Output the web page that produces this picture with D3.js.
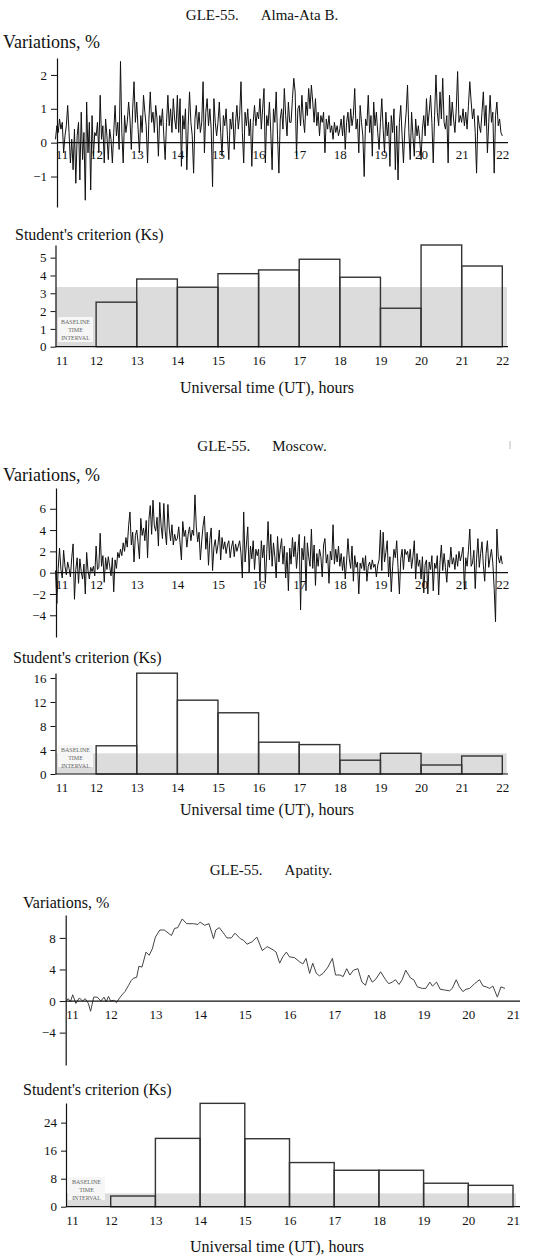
<!DOCTYPE html>
<html><head><meta charset="utf-8">
<script src="https://cdn.jsdelivr.net/npm/d3@7"></script>
<style>
body{margin:0;background:#fff}
svg{display:block}
text{font-family:"Liberation Serif","Times New Roman",serif;fill:#111}
</style>
</head><body>
<svg id="chart" width="552" height="1259"></svg>
<script>
// ---------------- DATA ----------------
const hoursAM = [11,12,13,14,15,16,17,18,19,20,21,22];
const hoursAp = [11,12,13,14,15,16,17,18,19,20,21];
const stepHours = 2/60; // Alma-Ata & Moscow series: one value every 2 minutes from 11:00 UT

const almaVar = [
 0.1,0.5,0.3,0.7,0.4,0.6,-0.3,0.2,0.5,1.1,0.3,-0.6,0.1,-0.8,0.4,-1.2,0.2,0.6,-1.1,0.9,-0.5,0.3,-1.7,1.2,-0.3,0.6,-1.4,0.8,-0.4,0.3,
 0.2,0.6,-0.3,1.4,0.1,0.5,-0.6,0.7,0.2,-0.5,0.4,0.1,-0.6,0.3,1.1,0.2,0.6,-0.2,2.4,0.3,-0.6,0.8,0.3,0.6,1.2,0.7,-0.2,1.0,1.8,0.6,
 1.2,0.4,-0.3,0.8,0.3,1.4,0.9,0.5,-0.6,0.7,1.5,0.6,0.9,0.3,1.1,0.7,-0.4,0.8,0.5,1.0,0.2,-0.5,0.6,1.4,0.5,1.0,0.3,1.3,0.7,0.4,
 1.4,0.3,1.3,-0.7,0.8,0.4,1.0,-0.8,0.5,1.5,0.6,0.2,-0.9,0.7,1.1,0.4,0.9,0.3,0.6,1.8,-0.3,0.9,1.3,0.5,1.0,0.4,-1.3,1.3,0.6,0.2,
 0.6,1.2,0.3,-0.4,0.8,0.5,1.0,0.2,-0.5,0.7,0.4,0.9,-0.2,0.6,1.1,0.4,0.8,1.8,0.3,-0.6,0.9,0.5,1.0,0.2,0.7,-0.7,0.6,1.1,0.5,0.9,
 0.7,1.3,0.4,1.0,1.6,-0.6,0.8,0.5,1.2,0.3,-0.8,1.0,0.6,1.5,0.2,-0.9,0.7,1.0,0.4,1.6,0.8,0.2,1.2,0.6,0.6,1.3,1.9,1.5,-0.4,1.0,
 1.1,0.5,1.4,0.7,0.3,1.2,0.8,1.6,1.0,1.7,1.2,0.6,1.3,0.5,0.9,0.2,0.8,0.6,0.9,-0.3,0.7,0.4,0.8,0.3,0.5,0.1,0.6,0.3,0.5,0.2,
 0.4,0.7,0.2,0.8,-0.2,0.6,0.9,0.3,1.0,0.5,0.8,1.6,0.4,0.7,-0.3,1.1,0.6,0.2,-1.0,0.7,0.5,1.4,0.3,0.8,-0.4,1.2,0.5,0.9,0.3,-0.2,
 0.6,1.3,0.4,-0.3,0.9,0.2,0.6,-0.7,0.8,0.3,1.0,-0.8,0.5,-1.1,0.6,1.1,0.2,-0.6,0.4,0.9,1.7,0.3,-0.5,0.9,0.2,-0.4,0.7,0.2,0.5,0.1,
 -0.5,0.4,0.8,0.2,1.3,0.5,0.9,1.4,0.6,-0.6,0.8,2.0,0.9,0.5,1.5,0.7,1.9,0.6,0.4,0.8,-0.6,1.4,0.5,1.2,0.7,0.3,1.0,2.1,0.6,0.8,
 0.6,1.0,0.5,0.9,0.4,1.1,1.8,1.2,0.7,1.0,0.3,-0.9,0.8,0.5,0.3,0.9,1.5,0.5,1.1,-0.3,0.6,1.4,0.6,0.9,-0.9,0.8,1.2,0.5,0.7,0.3,
 0.2
];

const moscowVar = [
 0.2,-2.9,0.4,2.3,0.3,-0.5,2.1,0.6,-0.2,1.0,0.4,-0.4,1.4,2.7,-2.5,0.3,1.4,-1.0,1.3,0.1,-0.6,0.8,-2.0,1.9,0.2,-0.6,0.5,0.1,0.6,-0.3,
 2.5,0.3,0.5,3.7,0.6,1.6,-0.9,1.4,0.3,1.5,0.6,-0.3,1.4,-1.8,1.2,0.4,1.9,1.4,2.2,1.6,2.8,2.0,3.3,2.4,4.4,5.7,2.6,3.8,1.0,3.5,
 4.0,2.8,1.3,5.1,3.5,4.2,3.0,4.9,1.4,5.0,6.3,3.6,6.8,4.4,3.9,5.2,2.5,6.6,4.4,3.2,6.5,3.9,2.6,6.4,4.2,3.0,4.5,2.6,3.6,3.0,
 3.2,4.3,2.8,1.2,4.8,3.4,4.0,2.4,3.6,4.3,3.0,4.0,3.5,7.3,4.3,2.9,3.8,1.2,3.0,4.4,5.3,2.2,3.8,0.7,3.1,4.2,0.2,2.4,3.1,1.8,
 2.6,4.0,1.2,3.3,2.2,2.9,1.8,2.6,3.0,1.4,2.4,3.0,1.5,2.7,2.0,2.5,3.0,1.8,-0.5,5.7,1.0,2.6,4.3,0.0,2.5,1.3,3.0,0.3,2.2,1.6,
 2.2,-0.8,3.0,1.4,2.6,-1.0,1.8,4.8,1.2,3.6,0.6,2.8,1.5,-0.5,3.4,1.0,2.2,3.2,0.8,2.5,-0.5,1.9,-1.7,2.3,0.8,3.3,1.5,2.9,0.4,2.0,
 3.6,-3.5,2.3,1.2,3.4,-1.7,2.8,1.5,0.6,4.1,0.4,2.6,-1.2,1.8,0.6,2.2,1.5,-0.4,2.6,3.2,0.9,1.7,-1.0,2.0,1.2,4.5,0.8,2.2,1.0,2.5,
 0.6,1.8,0.2,1.5,-0.6,1.1,3.2,1.3,0.4,2.5,-0.8,1.6,0.5,1.0,-2.0,0.9,0.4,1.4,0.2,1.6,-0.8,0.6,1.0,0.3,1.2,0.5,0.8,-0.4,0.7,1.2,
 4.0,0.2,3.8,1.0,1.9,3.0,-0.4,1.5,-1.8,0.6,2.2,1.4,3.0,0.5,-2.0,1.3,2.2,0.3,2.2,1.7,2.0,1.0,2.2,0.4,1.5,3.0,-0.6,1.8,0.6,1.2,
 -0.6,1.5,-1.9,0.8,1.2,-2.0,1.0,0.3,1.6,-1.7,0.9,0.4,1.6,-2.1,1.0,2.6,0.2,1.8,0.5,-0.9,1.2,0.5,2.4,0.8,1.4,0.3,1.7,0.6,2.0,1.1,
 1.7,2.4,-1.6,1.4,0.6,2.1,4.1,0.6,0.9,2.1,-1.5,1.3,3.2,0.5,1.8,2.9,0.7,-0.8,1.8,3.0,0.5,1.4,2.2,0.9,-1.5,-4.6,4.1,1.5,0.9,1.6,
 0.8
];

const apatityHours = [
 11.0,11.05,11.1,11.15,11.22,11.3,11.37,11.43,11.5,11.55,11.62,11.7,11.78,11.85,11.9,11.95,12.0,12.07,12.13,12.2,
 12.27,12.32,12.4,12.46,12.51,12.58,12.63,12.7,12.79,12.86,12.93,13.0,13.1,13.2,13.36,13.43,13.5,13.6,13.7,13.85,
 13.95,14.0,14.1,14.2,14.3,14.35,14.43,14.55,14.6,14.7,14.78,14.9,14.97,15.05,15.16,15.27,15.39,15.46,15.5,15.63,
 15.7,15.78,15.85,15.93,16.0,16.11,16.22,16.3,16.37,16.45,16.52,16.6,16.67,16.75,16.86,16.96,17.03,17.13,17.2,17.28,
 17.35,17.43,17.53,17.62,17.7,17.77,17.85,17.92,18.04,18.15,18.22,18.3,18.37,18.45,18.52,18.6,18.71,18.78,18.86,18.97,
 19.05,19.14,19.2,19.29,19.37,19.47,19.58,19.64,19.73,19.8,19.88,19.95,20.03,20.14,20.25,20.33,20.4,20.48,20.55,20.65,
 20.73,20.82
];
const apatityVar = [
 0.0,0.3,-0.1,0.8,-0.3,0.4,0.0,0.3,-0.3,-1.3,0.5,0.5,0.0,0.5,-0.1,0.6,0.0,0.1,-0.2,0.4,
 0.9,1.2,2.0,2.6,2.9,3.0,4.4,4.3,6.2,5.8,6.6,8.1,9.0,9.0,8.3,9.2,9.3,10.4,9.8,9.8,
 9.7,10.0,9.6,9.8,7.9,9.0,9.3,8.4,8.0,8.0,8.6,7.9,7.7,7.2,7.5,8.1,6.4,6.7,6.9,6.5,
 6.2,4.8,5.6,6.2,5.6,5.5,5.0,4.7,5.4,3.5,4.8,3.5,3.2,3.5,4.3,5.4,3.3,3.3,3.1,4.1,
 3.3,3.9,4.1,2.4,2.0,3.3,2.4,2.7,3.7,2.7,2.2,2.4,2.7,2.1,2.7,3.9,2.9,2.7,1.8,1.6,
 1.6,2.4,1.9,2.4,1.5,1.4,1.3,1.6,2.7,1.8,1.2,1.5,1.6,2.2,2.7,1.9,1.8,1.6,1.9,0.5,
 1.8,1.6
];

const binStartsAM = [12,13,14,15,16,17,18,19,20,21];
const almaKs   = [2.5,3.8,3.34,4.1,4.31,4.91,3.9,2.16,5.71,4.53];
const moscowKs = [4.7,16.8,12.3,10.2,5.3,4.9,2.3,3.45,1.5,3.0];
const binStartsAp = [12,13,14,15,16,17,18,19,20];
const apatityKs = [3.05,19.5,29.5,19.4,12.6,10.4,10.4,6.7,6.1];

const almaBaseline = 3.35, moscowBaseline = 3.45, apatityBaseline = 3.8;

const almaVarTicks = [-1,0,1,2];
const moscowVarTicks = [-4,-2,0,2,4,6];
const apatityVarTicks = [-4,0,4,8];
const almaKsTicks = [0,1,2,3,4,5];
const moscowKsTicks = [0,4,8,12,16];
const apatityKsTicks = [0,8,16,24];

const titles = [["GLE-55.","Alma-Ata B."],["GLE-55.","Moscow."],["GLE-55.","Apatity."]];

// ---------------- DRAWING ----------------
const svg = d3.select("#chart");
const fmt = d => d < 0 ? "\u2212" + Math.abs(d) : String(d);

function title(parts, cx, y, fs){
  const t = svg.append("text").attr("x", cx).attr("y", y).attr("text-anchor","middle")
    .style("font-size", fs+"px");
  t.append("tspan").text(parts[0]);
  t.append("tspan").attr("dx", 22).text(parts[1]);
}
function label(txt, x, y, fs, anchor){
  svg.append("text").attr("x", x).attr("y", y).attr("text-anchor", anchor||"start")
    .style("font-size", fs+"px").text(txt);
}

function styleAxis(g, fs){
  g.selectAll("path.domain").attr("stroke","#111").attr("stroke-width",1.2);
  g.selectAll(".tick line").attr("stroke","#111").attr("stroke-width",1);
  g.selectAll(".tick text").style("font-family",'"Liberation Serif","Times New Roman",serif')
    .style("font-size", fs+"px").attr("fill","#111");
}

function lineChart(o){
  const x = d3.scaleLinear().domain(o.xDomain).range(o.xRange);
  const y = d3.scaleLinear().domain(o.yDomain).range(o.yRange);
  const axisX = o.axisX;
  const gy = svg.append("g").attr("transform",`translate(${axisX},0)`)
    .call(d3.axisLeft(y).tickValues(o.yTicks).tickFormat(fmt).tickSize(6).tickSizeOuter(0).tickPadding(4));
  styleAxis(gy, 13);
  const line = d3.line().x(d => x(d[0])).y(d => y(d[1]));
  svg.append("path").datum(o.data).attr("d", line).attr("fill","none")
    .attr("stroke", o.color).attr("stroke-width", o.sw).attr("stroke-linejoin","miter");
  svg.append("line").attr("x1", axisX).attr("x2", o.xEnd).attr("y1", y(0)).attr("y2", y(0))
    .attr("stroke","#111").attr("stroke-width",1.2);
  const gx = svg.append("g").attr("transform",`translate(0,${y(0)})`)
    .call(d3.axisBottom(x).tickValues(o.xTicks).tickSize(0).tickPadding(o.tickPad));
  gx.select("path.domain").remove();
  styleAxis(gx, 13);
  gx.selectAll(".tick text").attr("dx", d => d === o.xDomain[0] ? 6 : 0);
}

function histChart(o){
  const x = d3.scaleLinear().domain(o.xDomain).range(o.xRange);
  const y = d3.scaleLinear().domain(o.yDomain).range(o.yRange);
  const bars = o.starts.map((s,i) => ({s, v:o.values[i]}));
  svg.selectAll(null).data(bars).enter().append("rect")
    .attr("x", d => x(d.s)).attr("width", d => x(d.s+1)-x(d.s))
    .attr("y", d => y(d.v)).attr("height", d => y(0)-y(d.v))
    .attr("fill","#fff");
  svg.append("rect").attr("x", o.bandX[0]).attr("width", o.bandX[1]-o.bandX[0])
    .attr("y", y(o.baseline)).attr("height", y(0)-y(o.baseline)).attr("fill","#dcdcdc");
  svg.selectAll(null).data(bars).enter().append("rect")
    .attr("x", d => x(d.s)).attr("width", d => x(d.s+1)-x(d.s))
    .attr("y", d => y(d.v)).attr("height", d => y(0)-y(d.v))
    .attr("fill","none").attr("stroke","#333").attr("stroke-width",1.4);
  const b = o.box;
  svg.append("rect").attr("x", b[0]).attr("y", b[1]).attr("width", b[2]).attr("height", b[3])
    .attr("fill","#f6f6f6");
  ["BASELINE","TIME","INTERVAL"].forEach((t,i) => {
    svg.append("text").attr("x", b[0]+b[2]/2).attr("y", b[1]+7+i*8).attr("text-anchor","middle")
      .style("font-size","6px").style("fill","#666").text(t);
  });
  const gy = svg.append("g").attr("transform",`translate(${o.xRange[0]},0)`)
    .call(d3.axisLeft(y).tickValues(o.yTicks).tickFormat(fmt).tickSize(5).tickSizeOuter(0).tickPadding(4));
  styleAxis(gy, 13);
  svg.append("line").attr("x1", o.xRange[0]).attr("x2", o.xEnd).attr("y1", y(0)).attr("y2", y(0))
    .attr("stroke","#111").attr("stroke-width",1.2);
  const gx = svg.append("g").attr("transform",`translate(0,${y(0)})`)
    .call(d3.axisBottom(x).tickValues(o.xTicks).tickSize(0).tickPadding(o.tickPad));
  gx.select("path.domain").remove();
  styleAxis(gx, 13);
  gx.selectAll(".tick text").attr("dx", d => d === o.xDomain[0] ? 6 : 0);
}

const series = (vals) => vals.map((v,i) => [11 + i*stepHours, v]);

// ===== Alma-Ata =====
title(titles[0], 262, 20, 15);
label("Variations, %", 3, 48, 18);
lineChart({xDomain:[11,22], xRange:[55.5,502.3], yDomain:[-1.9,2.5], yRange:[207,58],
  axisX:57, xEnd:508, yTicks:almaVarTicks, xTicks:hoursAM, tickPad:7,
  data:series(almaVar), color:"#111", sw:1});
label("Student's criterion (Ks)", 15, 240, 16);
histChart({xDomain:[11,22], xRange:[55.5,502.3], yDomain:[0,5.71], yRange:[346.7,245],
  xEnd:508, starts:binStartsAM, values:almaKs, baseline:almaBaseline, bandX:[55.5,507],
  box:[58,317,35,25], yTicks:almaKsTicks, xTicks:hoursAM, tickPad:9});
label("Universal time (UT), hours", 267, 393, 16, "middle");

// ===== Moscow =====
title(titles[1], 262, 451, 15);
svg.append("line").attr("x1",510).attr("x2",510).attr("y1",441).attr("y2",449).attr("stroke","#bbb");
label("Variations, %", 3, 481, 18);
lineChart({xDomain:[11,22], xRange:[55.5,502.3], yDomain:[-6.04,7.95], yRange:[637,488],
  axisX:56, xEnd:508, yTicks:moscowVarTicks, xTicks:hoursAM, tickPad:7,
  data:series(moscowVar), color:"#111", sw:1});
label("Student's criterion (Ks)", 13, 663, 16);
histChart({xDomain:[11,22], xRange:[55.5,502.3], yDomain:[0,16.83], yRange:[774,673],
  xEnd:508, starts:binStartsAM, values:moscowKs, baseline:moscowBaseline, bandX:[56.7,506.7],
  box:[58,745,35,22], yTicks:moscowKsTicks, xTicks:hoursAM, tickPad:9});
label("Universal time (UT), hours", 267, 815, 16, "middle");

// ===== Apatity =====
title(titles[2], 271, 875, 15);
label("Variations, %", 23, 908, 16);
lineChart({xDomain:[11,21], xRange:[66,513], yDomain:[-8.1,10.9], yRange:[1065,915],
  axisX:65.7, xEnd:520, yTicks:apatityVarTicks, xTicks:hoursAp, tickPad:9,
  data:apatityHours.map((h,i) => [h, apatityVar[i]]), color:"#444", sw:1});
label("Student's criterion (Ks)", 23, 1095, 16);
histChart({xDomain:[11,21], xRange:[66,513], yDomain:[0,29.6], yRange:[1206.7,1103],
  xEnd:520, starts:binStartsAp, values:apatityKs, baseline:apatityBaseline, bandX:[66.7,516],
  box:[68,1177,37,23], yTicks:apatityKsTicks, xTicks:hoursAp, tickPad:9});
label("Universal time (UT), hours", 277, 1252, 16, "middle");
</script>
</body></html>
